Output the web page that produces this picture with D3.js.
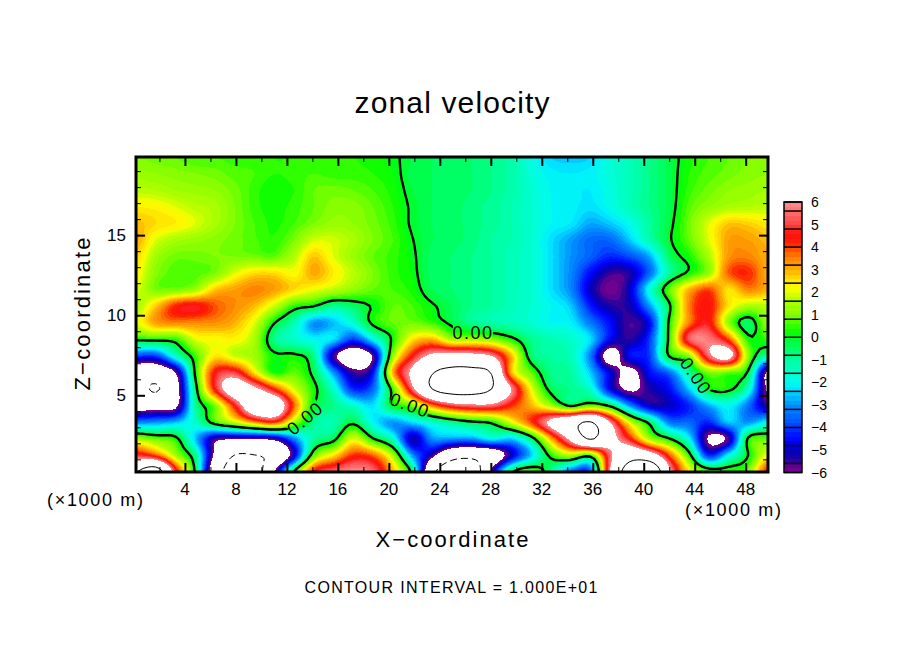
<!DOCTYPE html>
<html>
<head>
<meta charset="utf-8">
<script src="https://cdn.jsdelivr.net/npm/d3@7"></script>
<style>
  body { margin: 0; background: #fff; }
  text { font-family: "Liberation Sans", sans-serif; fill: #000; }
</style>
</head>
<body>
<svg id="chart" width="904" height="654"></svg>
<script>
// grid coordinates (x1000 m and z)
const xGrid = [0.16,1.71,3.26,4.81,6.36,7.91,9.46,11.0,12.55,14.1,15.65,17.2,18.75,20.3,21.85,23.4,24.95,26.5,28.05,29.6,31.15,32.7,34.25,35.8,37.35,38.9,40.45,42.0,43.55,45.1,46.65,48.2,49.75];
const zGrid = [19.88,18.84,17.81,16.77,15.74,14.7,13.67,12.63,11.6,10.56,9.53,8.49,7.46,6.42,5.39,4.35,3.32,2.28,1.25,0.21];

const z00 = [1.0,.9,.8,.6,.6,.5,.5,.4,.4,.4,.4,.4,.3,.1,-.2,-.4,-.5,-.6,-.8,-1.1,-1.8,-2.4,-2.5,-2.4,-1.7,-1.3,-.8,-.3,.3,.6,.8,1,1.1];
const z01 = [1.3,1.2,1.1,1,.9,.7,.6,.4,.5,.6,.5,.5,.4,.2,-.3,-.4,-.5,-.6,-.8,-1.1,-1.7,-2.1,-2.2,-2.1,-1.7,-1.3,-.8,-.3,.4,.7,.9,1.1,1.2];
const z02 = [1.7,1.6,1.4,1.3,1.2,.9,.5,.2,.4,.8,.9,.8,.6,.3,-.2,-.4,-.5,-.6,-.8,-1.1,-1.6,-2,-2.1,-2.2,-1.8,-1.3,-.8,-.3,.5,.9,1.2,1.3,1.4];
const z03 = [2.4,2.3,2,1.7,1.5,1,.5,.3,.5,.8,1.1,1.1,.8,.4,-.1,-.4,-.5,-.7,-.9,-1.2,-1.6,-2,-2.1,-2.3,-1.9,-1.3,-.8,-.3,.7,1.2,1.5,1.6,1.7];
const z04 = [2.9,2.6,2.4,2,1.5,1,.6,.35,.6,1,1.3,1.2,.9,.5,-.1,-.4,-.5,-.7,-.9,-1.2,-1.6,-2,-2.2,-2.8,-2.5,-1.9,-1,-.2,.9,2,2.8,2.7,2.4];
const z05 = [3.1,2,1.5,1.3,1.1,.9,.65,.45,1,1.9,1.9,1.5,1,.6,.02,-.4,-.5,-.7,-1,-1.2,-1.6,-2.3,-2.9,-3.5,-3.5,-2.5,-1.2,-.1,.8,2,3.2,3.2,2.9];
const z06 = [2.7,1.4,.9,.9,1,1,.9,.8,1.6,2.8,2,1.3,.8,.5,.1,-.5,-.6,-.8,-1,-1.3,-1.6,-2.3,-3,-3.6,-4.2,-3.8,-2.8,-.5,.3,1.5,3.3,3.5,3];
const z07 = [2.4,1.1,.7,.7,1,2,2.6,2.6,2.2,3.1,2.4,1.7,1,.5,.15,-.5,-.6,-.8,-1,-1.3,-1.6,-2.3,-3.1,-4.5,-5.5,-5.3,-3.5,-1,.2,1.3,3.8,4.2,3];
const z08 = [2,1,1,1.4,2.8,3.2,3.5,3.2,2.6,2.1,1.7,1.2,.8,.6,.3,-.4,-.6,-.8,-1,-1.3,-1.6,-2.3,-3.1,-5,-5.9,-5,-1.8,.8,3,4,2.5,3.5,3];
const z09 = [1.4,2.8,4.3,4.7,3.9,3.4,2.9,1.8,.4,.02,-.9,-.5,.1,.8,.6,.1,-.4,-.8,-1,-1.3,-1.6,-2,-2.5,-4.3,-5.3,-5.2,-3,-.2,3.5,4.5,2.5,1.5,1.7];
const z10 = [2,3.2,3.5,3.4,3.4,3,2,.05,-1.2,-3,-2.6,-1.6,.2,.8,.9,.5,-.2,-.8,-1.1,-1.3,-1.6,-2,-2.1,-3.3,-4.5,-5.6,-4.6,.2,3.5,4.6,1.2,-.5,1.4];
const z11 = [.2,.3,.4,2,2.2,2.3,1.5,-.8,-1.5,-2,-2.3,-4,-2,.2,2.5,3,1.5,1.5,1.2,.3,-.8,-1.2,-1.5,-2.3,-4.6,-5.4,-4,.3,5.3,5.7,4,.3,.5];
const z12 = [-4,-4,-1.5,.5,2.5,1.8,1.4,.2,.2,-.8,-5.5,-7.5,-5.8,1.2,4.5,6.5,7,6.8,6,3,-.5,-1,-1.3,-3.2,-7,-4.5,-4,.1,1.2,5.5,6.8,1.2,-1.2];
const z13 = [-8,-8,-6,.2,4.5,5,2.5,.3,.8,-.3,-3,-5.5,-4.5,3,6.5,9.8,11,11,9.8,3,.8,-.8,-1,-2.5,-4.8,-6.6,-4.5,-3.5,-1,1,.8,-.2,-6.5];
const z14 = [-8.5,-10.3,-7,-.5,4.5,7.5,6.5,4.3,2,.3,-1.5,-4.2,-3.5,.5,5.5,10,11.5,11.5,10,6,2.2,-.3,-.8,-1.5,-4.6,-6.3,-5.3,-4.5,-2.5,.02,.2,-1.5,-6.3];
const z15 = [-7,-7,-6.5,-1,1,4.5,8,8,3.8,.02,-.8,-1.5,-2.3,.02,1,3.5,5,5.5,5.5,4.2,3,1.5,-.1,.8,-.2,-3,-5,-5,-4.2,-2.8,-2,-3.4,-5.5];
const z16 = [-3.2,-3,-2.6,-1.5,.5,1.8,3.3,4.2,1.5,-.8,-1.2,-.2,-2,-3,-2.3,-1.5,-.8,-.2,.2,2,4,6.5,8.5,10.2,6,2,-.3,-3.3,-3.5,-4.2,-2.5,-3,-2];
const z17 = [1.5,.8,.3,-2.5,-5.5,-5.8,-5.8,-5.5,-3.2,-1,-.3,2,.1,-1.5,-5.2,-3,-3,-3,-2,-2.5,-.6,3,6.5,10.2,7,4.5,1.5,.1,-2,-6.2,-5.6,.2,.8];
const z18 = [5,4,1.5,-.8,-6.5,-10.1,-10.1,-9,-5,.8,2.5,4.2,3.8,1.5,-3,-5.5,-8.5,-9,-8,-5,-2.5,.3,1.5,.5,5.5,8.5,7.5,4,.5,-4.2,-2,.02,2.3];
const z19 = [10,12,5,-.2,-8,-12,-12,-6,.1,4.5,5.5,6,5.5,3,-.5,-9,-13,-13,-5.5,-.3,1,-.8,-3.5,-3.8,6,12,14,6.5,2.5,.8,.6,1,4.5];
const zRows = [z00,z01,z02,z03,z04,z05,z06,z07,z08,z09,z10,z11,z12,z13,z14,z15,z16,z17,z18,z19];

// colours of the key, from -6 upward by 0.4
const bandColors = ["#700090","#2000a0","#0000c0","#0000ff","#0020ff","#0050ff","#0070ff","#0090ff","#00c0ff","#00f0ff","#00ffe0","#00ffc0","#00ffa0","#00ff70","#00ff40","#00ff00","#40ff00","#80ff00","#a0ff00","#c0ff00","#ffff00","#ffe000","#ffb000","#ff9000","#ff6000","#ff2000","#ff1010","#ff4040","#ff6060","#ff8080","#ff9999"];
const colorLevels = d3.range(31).map(i => -5.8 + i * 0.4);
const bandLevels = d3.range(60).map(i => -6 + i * 0.2);
var bandColor = d3.scaleLinear().domain(colorLevels).range(bandColors).clamp(true);

const xTicks = [4,8,12,16,20,24,28,32,36,40,44,48];
const xMinor = [2,6,10,14,18,22,26,30,34,38,42,46];
const zTicks = [5,10,15];
const zMinor = [1,2,3,4,6,7,8,9,11,12,13,14,16,17,18,19];
const keyTicks = [6,5,4,3,2,1,0,-1,-2,-3,-4,-5,-6];
const keyEdges = [6,5.6,4.8,4,3.2,2.4,1.6,.8,0,-.8,-1.6,-2.4,-3.2,-4,-4.8,-5.6,-6];
const contourLabels = [
  {x: 305, y: 418, a: -40},
  {x: 410, y: 405, a: 20},
  {x: 473, y: 333, a: 0},
  {x: 696, y: 376, a: 55}
];

var svg = d3.select("#chart");
svg.append("rect").attr("width", 904).attr("height", 654).attr("fill", "#fff");

var left = 136, right = 768, top_ = 157, bottom = 472;
var x = d3.scaleLinear().domain([xGrid[0], xGrid[32]]).range([left, right]);
var z = d3.scaleLinear().domain([zGrid[19], zGrid[0]]).range([bottom, top_]);

// Catmull-Rom refinement so the contours come out round, the read values stay on the nodes
function spline(p0, p1, p2, p3, t) {
  return 0.5 * (2 * p1 + (p2 - p0) * t + (2 * p0 - 5 * p1 + 4 * p2 - p3) * t * t + (3 * p1 - p0 - 3 * p2 + p3) * t * t * t);
}
function refine(rows, f) {
  var clampI = (i, n) => Math.max(0, Math.min(n - 1, i));
  var ny = rows.length, mx = rows[0].length;
  var out = [];
  for (var jj = 0; jj <= (ny - 1) * f; jj++) {
    var j = Math.min(Math.floor(jj / f), ny - 2), tj = jj / f - j;
    for (var ii = 0; ii <= (mx - 1) * f; ii++) {
      var i = Math.min(Math.floor(ii / f), mx - 2), ti = ii / f - i;
      var col = [-1, 0, 1, 2].map(function (dj) {
        var r = rows[clampI(j + dj, ny)];
        return spline(r[clampI(i - 1, mx)], r[i], r[i + 1], r[clampI(i + 2, mx)], ti);
      });
      out.push(spline(col[0], col[1], col[2], col[3], tj));
    }
  }
  return out;
}
var fine = 5;
var cells = refine(zRows, fine);
var nx = (xGrid.length - 1) * fine + 1, nz = (zGrid.length - 1) * fine + 1;

// d3.contours sits in grid units, with the cell centres at +0.5
var gx = d3.scaleLinear().domain([0.5, nx - 0.5]).range([xGrid[0], xGrid[xGrid.length - 1]]);
var gz = d3.scaleLinear().domain([0.5, nz - 0.5]).range([zGrid[0], zGrid[zGrid.length - 1]]);
var path = d3.geoPath(d3.geoTransform({
  point: function (px, py) { this.stream.point(x(gx(px)), z(gz(py))); }
}));
var contours = d3.contours().size([nx, nz]);

svg.append("clipPath").attr("id", "plot").append("rect")
  .attr("x", left).attr("y", top_).attr("width", right - left).attr("height", bottom - top_);

// mask cuts the contour line under the labels
var mask = svg.append("mask").attr("id", "gaps").attr("maskUnits", "userSpaceOnUse")
  .attr("x", 0).attr("y", 0).attr("width", 904).attr("height", 654);
mask.append("rect").attr("width", 904).attr("height", 654).attr("fill", "#fff");
mask.selectAll("rect.gap").data(contourLabels).enter().append("rect")
  .attr("class", "gap").attr("x", -20).attr("y", -9).attr("width", 40).attr("height", 18)
  .attr("fill", "#000")
  .attr("transform", d => `translate(${d.x},${d.y}) rotate(${d.a})`);

var g = svg.append("g").attr("clip-path", "url(#plot)");

// bands, painted from low to high; outside +-6 stays white
g.selectAll("path.band")
  .data(bandLevels.map(t => ({ t: t, c: bandColor(t + 0.1) })).concat([{ t: 6, c: "#fff" }]))
  .enter().append("path")
  .attr("class", "band")
  .attr("d", d => path(contours.contour(cells, d.t)))
  .attr("fill", d => d.c)
  .attr("shape-rendering", "crispEdges");

// contour lines
g.append("path").attr("d", path(contours.contour(cells, 0)))
  .attr("fill", "none").attr("stroke", "#000").attr("stroke-width", 2.4).attr("mask", "url(#gaps)");
g.append("path").attr("d", path(contours.contour(cells, 10)))
  .attr("fill", "none").attr("stroke", "#000").attr("stroke-width", 1);
g.append("path").attr("d", path(contours.contour(cells.map(v => -v), 10)))
  .attr("fill", "none").attr("stroke", "#000").attr("stroke-width", 1).attr("stroke-dasharray", "7,4");

svg.selectAll("text.clabel").data(contourLabels).enter().append("text")
  .attr("class", "clabel")
  .attr("transform", d => `translate(${d.x},${d.y}) rotate(${d.a})`)
  .attr("text-anchor", "middle").attr("dy", "0.36em")
  .attr("font-size", 18).attr("letter-spacing", 1.5)
  .text("0.00");

// axes, ticks point inward on all four sides
function ticks(axisFn, scale, values, size, at) {
  var a = svg.append("g").attr("transform", at)
    .call(axisFn(scale).tickValues(values).tickSize(size).tickSizeOuter(0).tickFormat(""));
  a.select(".domain").remove();
  a.selectAll("line").attr("stroke", "#000").attr("stroke-width", 1);
  return a;
}
ticks(d3.axisBottom, x, xMinor, -5, `translate(0,${bottom})`);
ticks(d3.axisBottom, x, xTicks, -9, `translate(0,${bottom})`).selectAll("line").attr("stroke-width", 2);
ticks(d3.axisTop, x, xMinor, -5, `translate(0,${top_})`);
ticks(d3.axisTop, x, xTicks, -9, `translate(0,${top_})`).selectAll("line").attr("stroke-width", 2);
ticks(d3.axisLeft, z, zMinor, -5, `translate(${left},0)`);
ticks(d3.axisLeft, z, zTicks, -9, `translate(${left},0)`).selectAll("line").attr("stroke-width", 2);
ticks(d3.axisRight, z, zMinor, -5, `translate(${right},0)`);
ticks(d3.axisRight, z, zTicks, -9, `translate(${right},0)`).selectAll("line").attr("stroke-width", 2);

svg.append("rect").attr("x", left).attr("y", top_).attr("width", right - left).attr("height", bottom - top_)
  .attr("fill", "none").attr("stroke", "#000").attr("stroke-width", 3);

svg.selectAll("text.xt").data(xTicks).enter().append("text").attr("class", "xt")
  .attr("x", d => x(d)).attr("y", 495).attr("text-anchor", "middle").attr("font-size", 17).text(d => d);
svg.selectAll("text.zt").data(zTicks).enter().append("text").attr("class", "zt")
  .attr("x", 126).attr("y", d => z(d) + 6).attr("text-anchor", "end").attr("font-size", 17).text(d => d);

// colour key
var key = d3.scaleLinear().domain([-6, 6]).range([472.5, 202]);
bandLevels.forEach(function (t) {
  svg.append("rect").attr("x", 784).attr("width", 18)
    .attr("y", key(t + 0.2)).attr("height", key(t) - key(t + 0.2) + 0.5)
    .attr("fill", bandColor(t + 0.1)).attr("shape-rendering", "crispEdges");
});
svg.selectAll("line.edge").data(keyEdges).enter().append("line").attr("class", "edge")
  .attr("x1", 784).attr("x2", 802).attr("y1", d => key(d)).attr("y2", d => key(d))
  .attr("stroke", "#000").attr("stroke-width", 1.5);
svg.append("rect").attr("x", 784).attr("y", key(6)).attr("width", 18).attr("height", key(-6) - key(6))
  .attr("fill", "none").attr("stroke", "#000").attr("stroke-width", 1.5);
svg.selectAll("text.kt").data(keyTicks).enter().append("text").attr("class", "kt")
  .attr("x", 811).attr("y", d => key(d) + 5).attr("font-size", 14)
  .text(d => d < 0 ? "\u2212" + (-d) : d);

function label(txt, cx, cy, size, len, rot) {
  svg.append("text")
    .attr("transform", `translate(${cx},${cy})` + (rot ? ` rotate(${rot})` : ""))
    .attr("text-anchor", "middle").attr("font-size", size)
    .attr("textLength", len).attr("lengthAdjust", "spacing")
    .text(txt);
}
label("zonal velocity", 452, 113, 30, 195);
label("X\u2212coordinate", 452, 547, 22, 153);
label("Z\u2212coordinate", 90, 314, 22, 153, -90);
label("CONTOUR INTERVAL = 1.000E+01", 451, 593, 16, 293);
label("(\u00d71000 m)", 95, 506, 18, 96);
label("(\u00d71000 m)", 733, 516, 18, 96);
</script>
</body>
</html>
